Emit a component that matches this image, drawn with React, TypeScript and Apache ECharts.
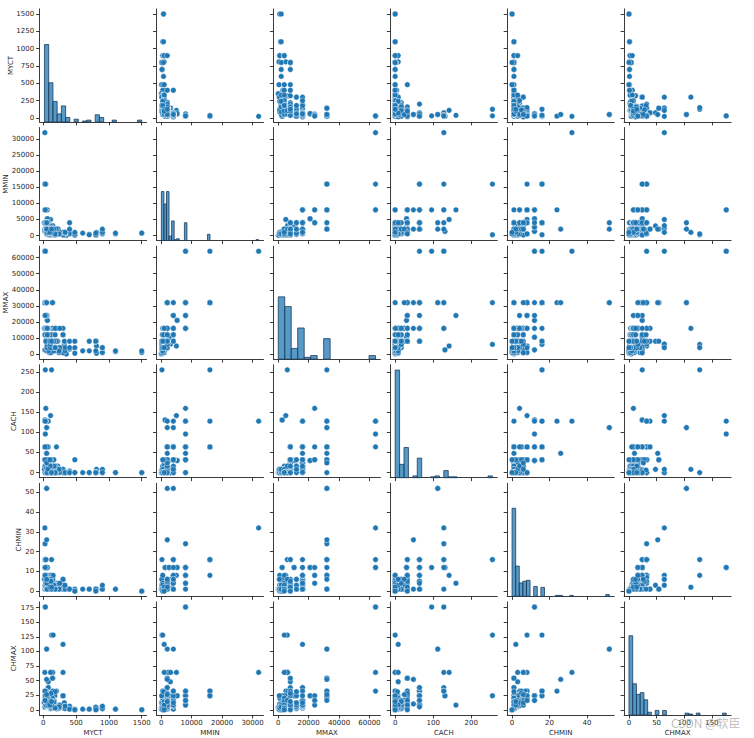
import React, { useEffect, useRef } from "react";
import * as echarts from "echarts";

const VARS = ["MYCT", "MMIN", "MMAX", "CACH", "CHMIN", "CHMAX"];

const MYCT = [125,29,29,29,29,26,23,23,23,23,400,400,60,50,350,200,167,143,143,110,143,143,143,110,320,320,320,320,320,320,25,25,50,50,56,64,50,50,50,50,50,50,50,50,133,133,810,810,320,200,700,700,140,200,110,110,220,800,800,800,800,800,125,75,75,75,90,105,105,105,75,75,175,300,300,300,300,300,300,180,330,300,300,330,330,140,140,140,140,140,140,140,140,57,57,26,26,26,26,480,203,115,1100,1100,600,400,400,900,900,900,900,900,225,225,180,185,180,225,25,25,17,17,1500,1500,800,50,50,50,50,50,50,100,100,100,50,50,50,150,115,115,92,92,92,75,60,60,60,50,72,72,40,40,35,38,48,38,30,112,84,56,56,56,56,56,56,38,38,38,38,38,200,200,200,250,250,250,160,160,160,160,160,240,240,105,105,105,52,70,59,59,26,26,26,116,50,50,50,50,30,30,180,180,180,180,124,98,125,480,480];
const MMIN = [256,8000,8000,8000,8000,8000,16000,16000,16000,32000,1000,512,2000,4000,64,512,524,512,1000,5000,1500,3100,2300,3100,128,512,256,256,512,256,1310,1310,2620,2620,5240,5240,500,1000,2000,1000,1000,2000,2000,2000,1000,1000,512,1000,512,512,384,256,1000,1000,1000,1000,1000,256,256,256,256,256,512,2000,2000,2000,256,256,1000,2000,2000,3000,256,768,768,768,768,384,192,768,1000,1000,1000,1000,1000,2000,2000,2000,2000,2000,2000,2000,2000,4000,4000,16000,16000,8000,8000,96,1000,512,512,768,768,2000,4000,1000,512,1000,1000,2000,2000,2000,2000,2000,2000,1000,2000,2000,4000,4000,768,768,768,2000,2000,2000,2000,2000,8000,1000,1000,1000,2000,2000,2000,512,2000,2000,2000,2000,2000,4000,4000,2000,4000,4000,4000,2000,8000,8000,8000,16000,4000,8000,16000,1000,1000,1000,2000,2000,4000,4000,4000,4000,4000,8000,8000,4000,1000,1000,2000,512,512,1000,512,512,1000,1000,2000,512,512,2000,2000,2000,4000,4000,4000,8000,8000,8000,8000,2000,2000,2000,2000,4000,8000,8000,262,512,262,512,1000,1000,2000,512,1000];
const MMAX = [6000,32000,32000,32000,16000,32000,32000,32000,64000,64000,3000,3500,8000,16000,64,16000,2000,5000,2000,5000,6300,6200,6200,6200,6000,2000,6000,3000,5000,5000,2620,2620,10480,10480,20970,20970,2000,4000,8000,4000,8000,16000,16000,16000,12000,8000,512,5000,8000,8000,8000,2000,16000,8000,4000,12000,8000,8000,8000,8000,8000,8000,1000,8000,16000,16000,1000,2000,4000,4000,8000,8000,2000,3000,3000,12000,4500,12000,768,12000,3000,4000,16000,2000,4000,4000,4000,4000,32000,8000,32000,32000,4000,16000,24000,32000,32000,32000,16000,512,2000,6000,1500,2000,2000,4000,8000,1000,1000,4000,4000,4000,4000,4000,8000,16000,16000,4000,12000,12000,16000,16000,1000,2000,2000,4000,8000,8000,16000,16000,16000,8000,8000,8000,16000,16000,16000,4000,8000,4000,8000,8000,8000,16000,16000,16000,16000,16000,16000,8000,16000,32000,32000,32000,24000,32000,32000,1000,2000,4000,6000,8000,8000,12000,16000,8000,8000,16000,24000,16000,2000,4000,8000,4000,4000,16000,4000,2000,4000,8000,8000,1000,2000,4000,6000,8000,16000,12000,12000,16000,24000,32000,32000,8000,32000,32000,32000,32000,64000,64000,4000,4000,4000,4000,8000,8000,8000,8000,4000];
const CACH = [256,32,32,32,32,64,64,64,64,128,0,4,65,65,0,0,8,0,0,142,0,0,0,0,0,4,0,4,4,4,131,131,30,30,30,30,8,8,8,8,8,8,8,8,9,9,8,0,4,8,0,0,16,0,16,16,16,0,0,0,0,0,0,64,64,128,0,0,0,8,8,8,0,0,6,6,0,6,6,6,0,8,8,0,0,0,0,8,32,32,32,32,8,1,64,64,64,0,0,0,0,16,0,0,0,0,0,0,0,4,8,0,8,8,8,16,16,2,8,16,8,32,0,0,0,0,8,8,24,24,48,0,24,24,12,24,24,0,16,2,32,32,4,16,32,64,64,64,64,16,32,64,64,128,32,64,256,0,0,0,0,0,0,0,0,32,32,64,160,128,0,0,64,0,0,1,2,2,8,16,32,8,8,8,16,16,32,8,32,64,32,64,128,32,24,48,112,112,96,128,0,0,0,0,0,32,0,32,0];
const CHMIN = [16,8,8,8,8,8,16,16,16,32,1,1,1,1,1,4,4,7,5,8,5,5,6,6,1,1,1,1,1,1,12,12,12,12,12,12,1,1,1,3,3,3,3,3,3,3,1,1,1,1,1,1,1,1,1,1,1,1,1,1,1,1,8,1,1,1,3,3,3,3,3,3,3,6,6,6,1,1,6,1,2,3,2,1,3,3,4,1,1,1,1,1,1,6,12,16,8,8,8,1,1,1,1,1,1,1,1,1,1,1,1,3,3,3,1,1,1,3,1,3,6,6,0,0,0,3,3,1,1,1,1,2,2,3,3,6,6,8,1,1,1,1,1,1,1,5,5,5,8,6,8,8,8,16,8,8,16,1,1,1,1,1,1,1,1,16,16,4,4,16,1,1,1,1,4,1,1,3,1,1,1,1,1,3,6,4,4,6,6,12,8,12,24,5,6,26,52,52,12,12,1,1,1,1,1,2,2,0,0];
const CHMAX = [128,32,32,32,16,32,32,32,32,64,2,6,8,8,4,32,15,32,16,64,32,20,64,64,12,3,6,3,5,6,24,24,24,24,24,24,4,5,5,5,5,5,6,6,12,12,1,1,5,8,1,1,3,2,2,2,2,4,4,4,4,4,20,38,38,38,10,10,24,19,24,48,24,24,24,24,24,24,24,31,4,64,112,2,6,6,8,20,20,54,54,54,20,12,16,24,24,24,16,1,5,6,1,1,1,1,1,2,2,2,2,6,6,6,6,6,6,6,4,5,12,12,0,0,0,6,6,6,6,6,10,6,6,6,16,16,16,128,3,5,6,6,6,6,6,8,8,10,16,8,16,24,24,32,24,24,24,4,6,6,8,8,8,8,8,32,32,8,8,32,2,4,5,7,7,8,5,8,14,14,13,3,5,8,16,14,12,8,12,24,16,16,32,28,26,52,104,104,176,176,3,3,3,3,8,8,14,0,0];

// number of histogram bins per variable (diagonal)
const HIST_BINS = [23, 38, 15, 22, 27, 26];

const MYCT_TICKS = [0, 250, 500, 750, 1000, 1250, 1500];
const MMIN_TICKS = [0, 5000, 10000, 15000, 20000, 25000, 30000];
const MMAX_TICKS = [0, 10000, 20000, 30000, 40000, 50000, 60000];
const CACH_TICKS = [0, 50, 100, 150, 200, 250];
const CHMIN_TICKS = [0, 10, 20, 30, 40, 50];
const CHMAX_TICKS = [0, 25, 50, 75, 100, 125, 150, 175];

const MYCT_XTICKS = [0, 500, 1000, 1500];
const MMIN_XTICKS = [0, 10000, 20000, 30000];
const MMAX_XTICKS = [0, 20000, 40000, 60000];
const CACH_XTICKS = [0, 100, 200];
const CHMIN_XTICKS = [0, 20, 40];
const CHMAX_XTICKS = [0, 50, 100, 150];

const COLS = [MYCT, MMIN, MMAX, CACH, CHMIN, CHMAX];
const YTICKS = [MYCT_TICKS, MMIN_TICKS, MMAX_TICKS, CACH_TICKS, CHMIN_TICKS, CHMAX_TICKS];
const XTICKS = [MYCT_XTICKS, MMIN_XTICKS, MMAX_XTICKS, CACH_XTICKS, CHMIN_XTICKS, CHMAX_XTICKS];

function hist(values: number[], nb: number) {
  const mn = Math.min(...values);
  const mx = Math.max(...values);
  const range = mx - mn;
  const counts = new Array(nb).fill(0);
  for (const v of values) {
    let k = Math.floor(((v - mn) / range) * nb + 1e-9);
    if (k >= nb) k = nb - 1;
    counts[k]++;
  }
  const bins: number[][] = [];
  for (let k = 0; k < nb; k++) {
    if (counts[k] > 0) bins.push([mn + (k * range) / nb, mn + ((k + 1) * range) / nb, counts[k]]);
  }
  return { bins, max: Math.max(...counts) };
}

const LEFT0 = 39.6;
const COL_STEP = 116.9;
const CELL_W = 107;
const TOP0 = 8.9;
const ROW_STEP = 118.6;
const CELL_H = 113;

const TEXT = "#262626";
const FONT = "DejaVu Sans";
const FS = 7;

export default function App() {
  const ref = useRef<HTMLDivElement>(null);
  useEffect(() => {
    if (!ref.current) return;
    const chart = echarts.init(ref.current, undefined, { renderer: "svg" });

    const ranges = COLS.map((v) => {
      const mn = Math.min(...v);
      const mx = Math.max(...v);
      const m = (mx - mn) * 0.05;
      return [mn - m, mx + m];
    });
    const hists = COLS.map((v, i) => hist(v, HIST_BINS[i]));
    const countMax = Math.max(...hists.map((h) => h.max)) * 1.05;

    const grid: any[] = [];
    const xAxis: any[] = [];
    const yAxis: any[] = [];
    const series: any[] = [];

    const axisCommon = {
      type: "value",
      splitLine: { show: false },
      axisLine: { show: true, onZero: false, lineStyle: { color: TEXT, width: 0.9 } },
    };

    for (let r = 0; r < 6; r++) {
      for (let c = 0; c < 6; c++) {
        const idx = r * 6 + c;
        grid.push({
          left: LEFT0 + c * COL_STEP,
          top: TOP0 + r * ROW_STEP,
          width: CELL_W,
          height: CELL_H,
          containLabel: false,
          outerBoundsMode: "none",
        });
        xAxis.push({
          ...axisCommon,
          gridIndex: idx,
          min: ranges[c][0],
          max: ranges[c][1],
          axisTick: { show: true, length: 3.5, inside: false, customValues: XTICKS[c], lineStyle: { color: TEXT, width: 0.9 } },
          axisLabel: {
            show: r === 5,
            customValues: XTICKS[c],
            margin: 5,
            fontSize: FS,
            fontFamily: FONT,
            color: TEXT,
            formatter: (v: number) => String(v),
          },
        });
        yAxis.push({
          ...axisCommon,
          gridIndex: idx,
          min: ranges[r][0],
          max: ranges[r][1],
          axisTick: { show: true, length: 3.5, inside: false, customValues: YTICKS[r], lineStyle: { color: TEXT, width: 0.9 } },
          axisLabel: {
            show: c === 0,
            customValues: YTICKS[r],
            margin: 5.5,
            fontSize: FS,
            fontFamily: FONT,
            color: TEXT,
            formatter: (v: number) => String(v),
          },
        });
        if (r !== c) {
          const xs = COLS[c];
          const ys = COLS[r];
          series.push({
            type: "scatter",
            xAxisIndex: idx,
            yAxisIndex: idx,
            symbol: "circle",
            symbolSize: 5.6,
            itemStyle: { color: "#1f77b4", borderColor: "#ffffff", borderWidth: 0.4, opacity: 1 },
            data: xs.map((x, i) => [x, ys[i]]),
            silent: true,
          });
        }
      }
    }

    for (let d = 0; d < 6; d++) {
      const idx = d * 6 + d;
      yAxis.push({
        type: "value",
        gridIndex: idx,
        min: 0,
        max: countMax,
        show: false,
      });
      series.push({
        type: "custom",
        xAxisIndex: idx,
        yAxisIndex: 36 + d,
        clip: false,
        silent: true,
        data: hists[d].bins,
        renderItem: (params: any, api: any) => {
          const p0 = api.coord([api.value(0), api.value(2)]);
          const p1 = api.coord([api.value(1), 0]);
          return {
            type: "rect",
            shape: { x: p0[0], y: p0[1], width: p1[0] - p0[0], height: p1[1] - p0[1] },
            style: { fill: "rgba(31,119,180,0.75)", stroke: "#1d3c5a", lineWidth: 0.8 },
          };
        },
      });
    }

    const yNameX = [10.7, 5.5, 5.5, 14, 18.5, 14];
    const graphic: any[] = [];
    for (let r = 0; r < 6; r++) {
      graphic.push({
        type: "text",
        x: yNameX[r],
        y: TOP0 + r * ROW_STEP + CELL_H / 2,
        rotation: Math.PI / 2,
        style: { text: VARS[r], fontSize: FS, fontFamily: FONT, fill: TEXT, align: "center", verticalAlign: "middle" },
      });
    }
    for (let c = 0; c < 6; c++) {
      graphic.push({
        type: "text",
        x: LEFT0 + c * COL_STEP + CELL_W / 2,
        y: 733,
        style: { text: VARS[c], fontSize: FS, fontFamily: FONT, fill: TEXT, align: "center", verticalAlign: "middle" },
      });
    }
    graphic.push({
      type: "text",
      x: 671,
      y: 722.5,
      z: 100,
      style: {
        text: "CSDN @软臣",
        fontSize: 12,
        fontFamily: "Noto Sans CJK SC",
        fill: "rgba(170,170,170,0.75)",
        align: "left",
        verticalAlign: "middle",
      },
    });

    chart.setOption({
      animation: false,
      backgroundColor: "#ffffff",
      grid,
      xAxis,
      yAxis,
      series,
      graphic,
    });
    return () => chart.dispose();
  }, []);

  return (
    <div
      ref={ref}
      style={{ position: "fixed", left: 0, top: 0, width: 754, height: 738, background: "#fff" }}
    />
  );
}
